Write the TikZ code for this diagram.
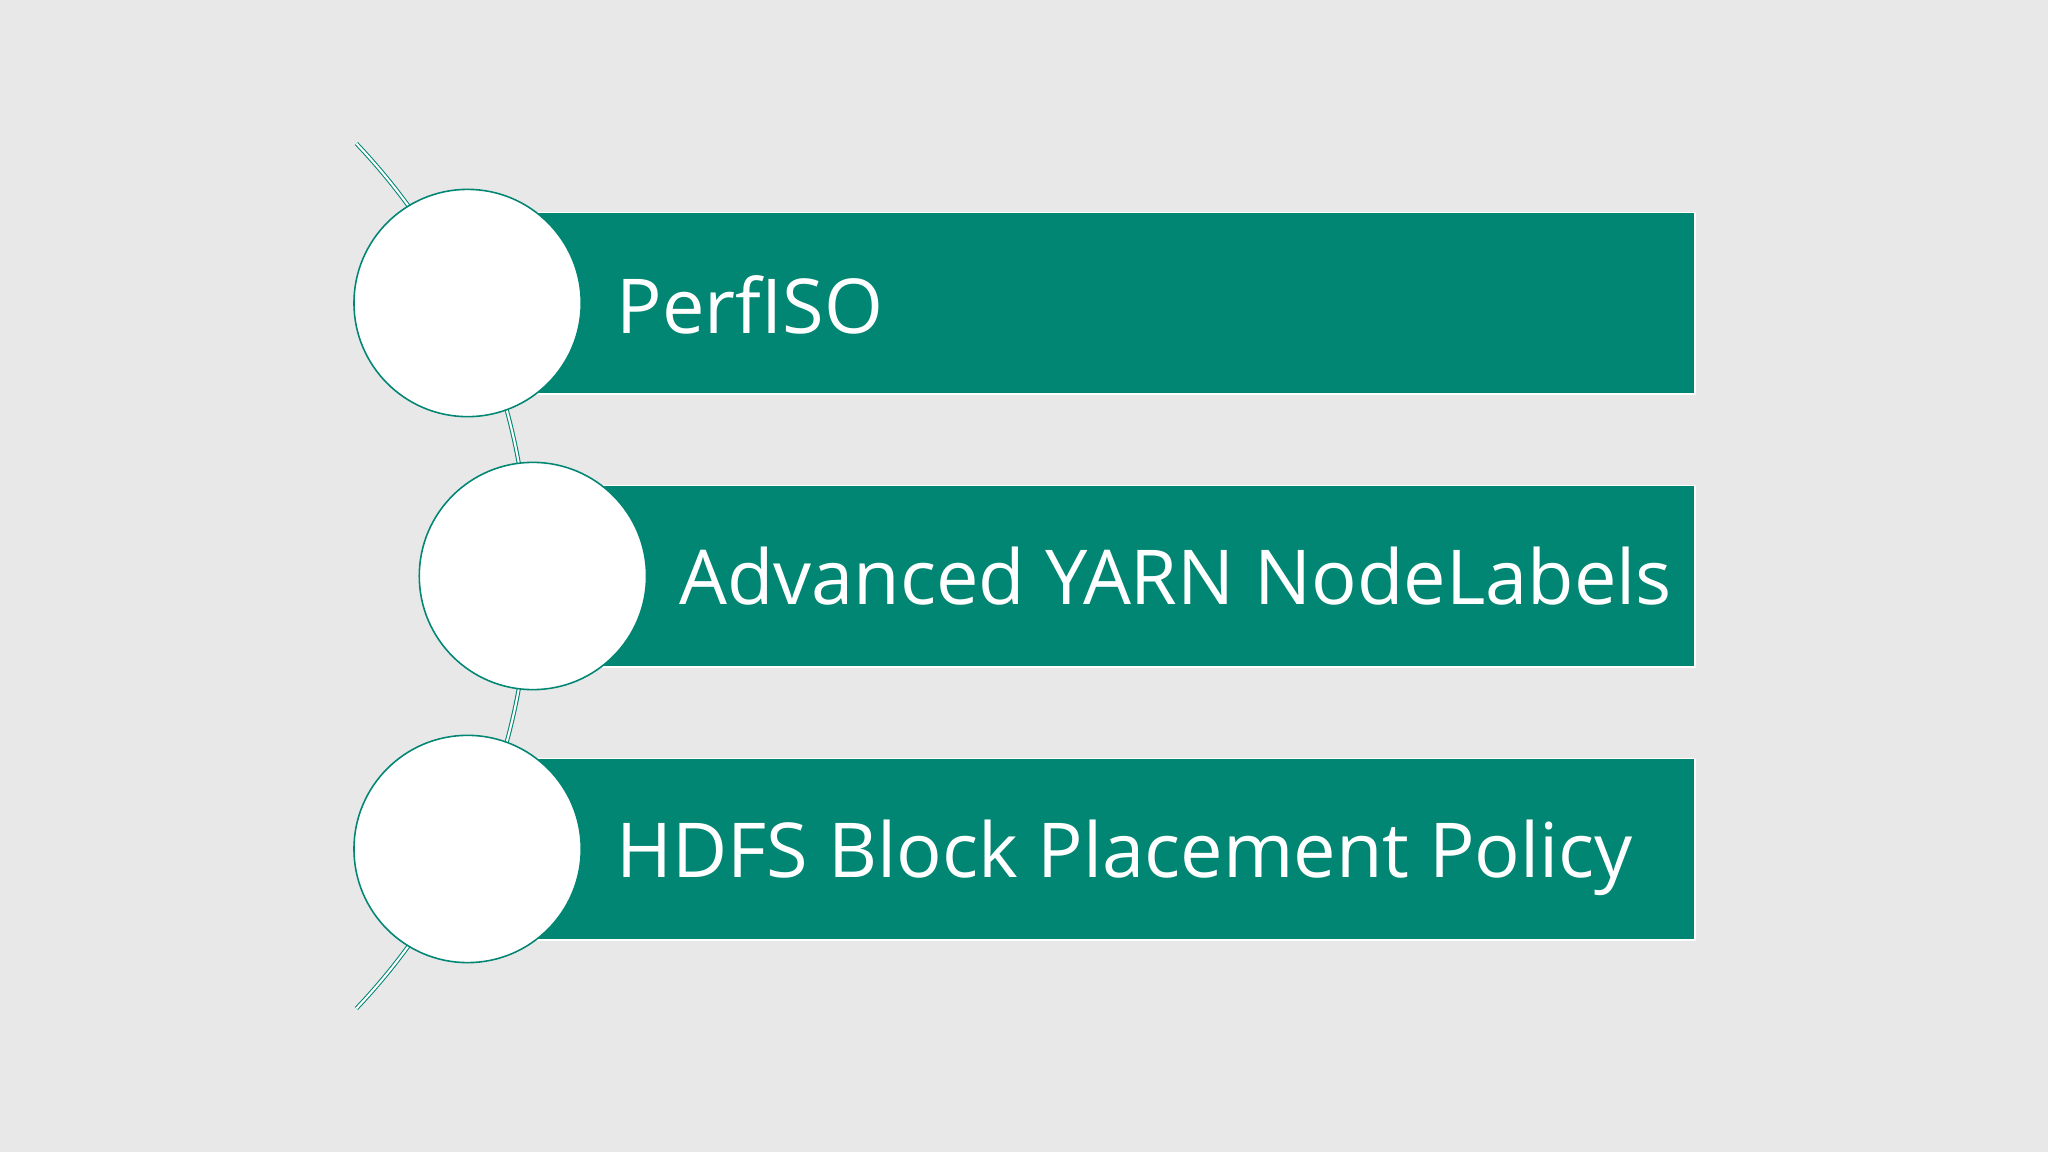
\documentclass[tikz,border=0pt]{standalone}
\usepackage{fontspec}
\setmainfont{Open Sans}
\definecolor{teal1}{HTML}{008673}
\definecolor{bg}{HTML}{E8E8E8}
\begin{document}
\begin{tikzpicture}[x=1pt,y=-1pt,
  bar/.style={fill=teal1,draw=white,line width=1.2pt},
  disc/.style={circle,fill=white,draw=teal1,line width=1.2pt,minimum size=174pt,inner sep=0pt},
  lab/.style={anchor=base west,text=white,font=\fontsize{58}{60}\selectfont,inner sep=0pt}]
\useasboundingbox[fill=bg] (0,0) rectangle (1568,882);
\coordinate (arcc) at (-76,441);
\draw[teal1,double=white,double distance=1.6pt,line width=0.8pt] ([shift={(-43.5:481)}]arcc) arc[start angle=-43.5,end angle=43.5,radius=481];
\node[bar,minimum width=897pt,minimum height=139pt,anchor=north west,inner sep=0pt] (b1) at (400,162) {};
\node[bar,minimum width=845pt,minimum height=139pt,anchor=north west,inner sep=0pt] (b2) at (452,371) {};
\node[bar,minimum width=897pt,minimum height=139pt,anchor=north west,inner sep=0pt] (b3) at (400,580) {};
\node[disc] (c1) at (358,232) {};
\node[disc] (c2) at (408,441) {};
\node[disc] (c3) at (358,650) {};
\node[lab] (t1) at (472,255) {PerfISO};
\node[lab] (t2) at (520,463) {Advanced YARN NodeLabels};
\node[lab] (t3) at (472,672) {HDFS Block Placement Policy};
\end{tikzpicture}
\end{document}
